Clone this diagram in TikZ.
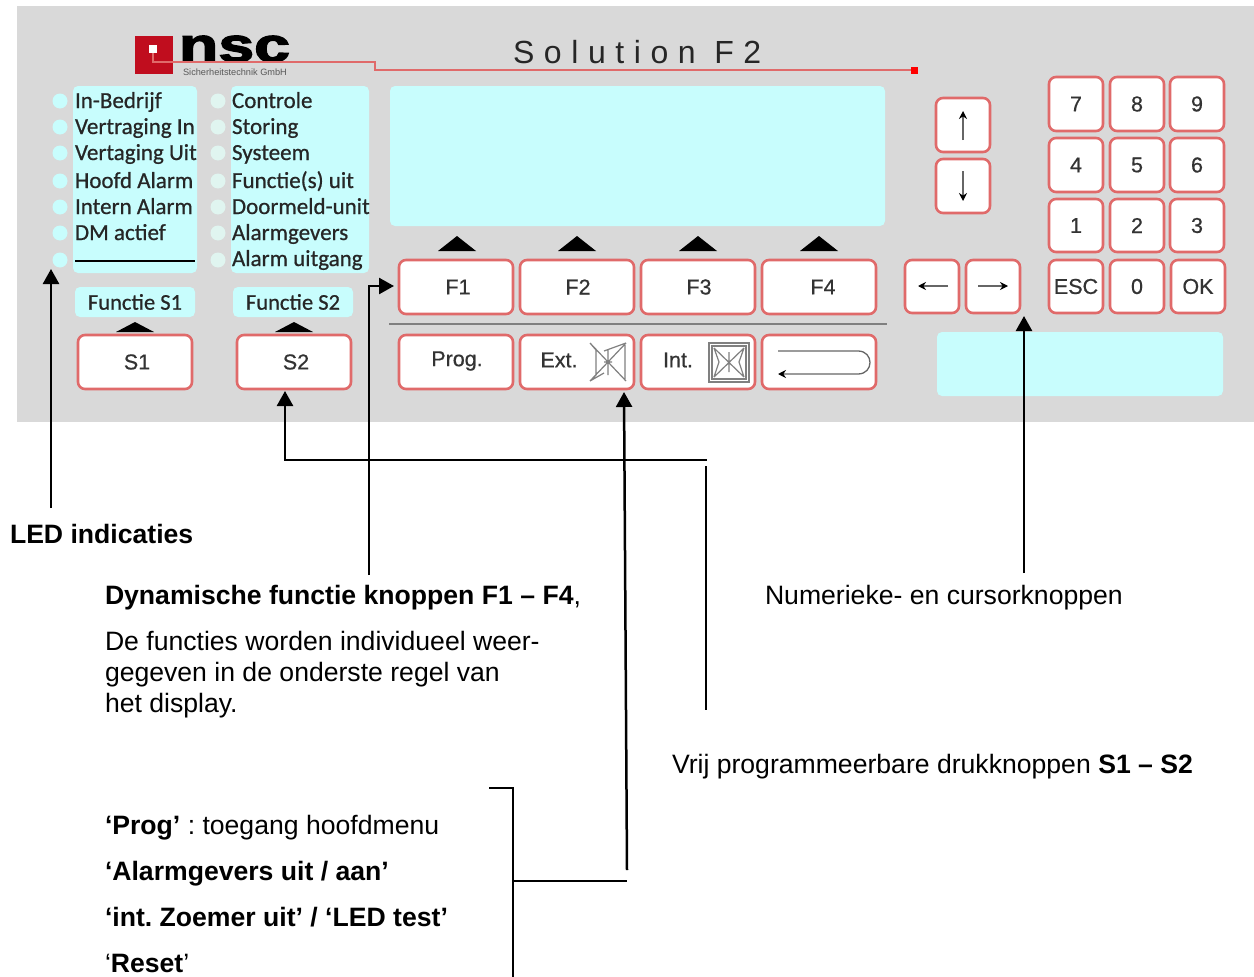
\documentclass[tikz,border=0pt]{standalone}
\usepackage{fontspec}
\setmainfont{Liberation Sans}
\newfontfamily\ledfont[FakeBold=0.7]{Carlito}
\newfontfamily\keyfont[FakeBold=0.6]{Liberation Sans}
\newfontfamily\logofont[FakeBold=2.5]{Liberation Sans Bold}
\newfontfamily\spacedfont[LetterSpace=30]{Liberation Sans}
\usetikzlibrary{arrows.meta}
\definecolor{panel}{HTML}{D9D9D9}
\definecolor{lcd}{HTML}{C8FDFD}
\definecolor{ledb}{HTML}{E0F5F0}
\definecolor{keyred}{HTML}{E06A6A}
\definecolor{keytxt}{HTML}{333333}
\definecolor{logored}{HTML}{C00D1E}
\frenchspacing
\tikzset{
  x=1pt,y=-1pt,
  every node/.style={inner sep=0pt,outer sep=0pt},
  body/.style={anchor=base west,font=\fontsize{26.6}{30}\selectfont,text=black},
  ledtxt/.style={anchor=base west,font=\ledfont\fontsize{23}{26}\selectfont,text=black!85},
  keytext/.style={font=\keyfont\fontsize{21.5}{26}\selectfont,text=keytxt},
  keyface/.style={draw=keyred,line width=2.6pt,fill=white,rounded corners=7pt},
  lcdbox/.style={fill=lcd,rounded corners=5pt},
  ledc/.style={circle,minimum size=15pt},
  marker/.style={fill=black},
  lead/.style={draw=black,line width=2.5pt},
  leadarrow/.style={lead,-{Triangle[length=15pt,width=16pt]}},
  keysym/.style={draw=black!60,line width=1.3pt},
  keyarrow/.style={keysym,-{Stealth[length=8pt,width=8pt,color=black]}},
}
\newcommand{\keybtn}[6]{% name, x0,y0,x1,y1, text
  \filldraw[keyface] (#2,#3) rectangle (#4,#5);
  \node[keytext] (#1) at ({(#2+#4)/2},{(#3+#5)/2}) {#6};
}
\begin{document}
\begin{tikzpicture}
\useasboundingbox (0,0) rectangle (1254,977);
\fill[white] (0,0) rectangle (1254,977);
\fill[panel] (17,6) rectangle (1254,422);

% logo
\fill[logored] (135,36) rectangle (173,74);
\node[anchor=west] (nsc) at (179,49) {\resizebox{111pt}{26pt}{\logofont nsc}};
\node[anchor=center,font=\fontsize{9.2}{10}\selectfont,text=black!65] (gmbh) at (235,72) {Sicherheitstechnik GmbH};
\node[fill=white,minimum size=8pt] (logodot) at (153,49) {};
\node[fill=red,minimum size=7pt] (reddot) at (914,70) {};
\draw[keyred,line width=1.5pt] (logodot.south) -- (153,62) -- (375,62) -- (375,70) -- (reddot.west);
\node[anchor=base west,font=\spacedfont\fontsize{32}{36}\selectfont,text=black!85] (title) at (513,63) {Solution F2};

% LCD areas
\fill[lcdbox] (73,86) rectangle (197,273);
\fill[lcdbox] (231,86) rectangle (369,273);
\fill[lcdbox] (390,86) rectangle (885,226);
\fill[lcdbox] (937,332) rectangle (1223,396);
\node[lcdbox,minimum width=120pt,minimum height=30pt] (fs1box) at (135,302) {};
\node[lcdbox,minimum width=120pt,minimum height=30pt] (fs2box) at (293,302) {};
\node[ledtxt,anchor=center,font=\ledfont\fontsize{22.5}{24}\selectfont] (fs1) at (135,302) {Functie S1};
\node[ledtxt,anchor=center,font=\ledfont\fontsize{22.5}{24}\selectfont] (fs2) at (293,302) {Functie S2};

% LEDs
\foreach \i/\y in {1/101,2/127,3/153,4/181,5/207,6/233,7/260}{
  \node[ledc,fill=lcd] (ledA\i) at (60,\y) {};
  \node[ledc,fill=ledb] (ledB\i) at (218,\y) {};
}
\foreach \i/\y/\t in {1/108/In-Bedrijf,2/134/Vertraging In,3/160/Vertaging Uit,4/188/Hoofd Alarm,5/214/Intern Alarm,6/240/DM actief}{
  \node[ledtxt] (ltA\i) at (75,\y) {\t};
}
\foreach \i/\y/\t in {1/108/Controle,2/134/Storing,3/160/Systeem,4/188/Functie(s) uit,5/214/Doormeld-unit,6/240/Alarmgevers,7/266/Alarm uitgang}{
  \node[ledtxt] (ltB\i) at (232,\y) {\t};
}
\draw[black,line width=1.5pt] (75,261) -- (195,261);

% markers
\foreach \x in {457,577,698,819}{
  \fill[marker] (\x-19,251) -- (\x,236) -- (\x+19,251) -- cycle;
}
\foreach \x in {135,294}{
  \fill[marker] (\x-19,332) -- (\x,322) -- (\x+19,332) -- cycle;
}
\draw[black!50,line width=1.6pt] (389,324) -- (887,324);

% keys
\keybtn{kF1}{399}{260}{513}{314}{}
\keybtn{kF2}{520}{260}{634}{314}{}
\keybtn{kF3}{641}{260}{755}{314}{}
\keybtn{kF4}{762}{260}{876}{314}{}
\keybtn{kS1}{78}{335}{192}{389}{}
\keybtn{kS2}{237}{335}{351}{389}{}
\keybtn{kProg}{399}{335}{513}{389}{}
\keybtn{kExt}{520}{335}{634}{389}{}
\keybtn{kInt}{641}{335}{755}{389}{}
\keybtn{kRet}{762}{335}{876}{389}{}
\foreach \n/\x/\y/\t in {tF1/458/287/F1,tF2/578/287/F2,tF3/699/287/F3,tF4/823/287/F4,tS1/137/362/S1,tS2/296/362/S2,tProg/457/361/Prog.,tExt/559/360/Ext.,tInt/678/360/Int.}{
  \node[keytext] (\n) at (\x,\y) {\t};
}
\keybtn{k7}{1049}{77}{1103}{131}{7}
\keybtn{k8}{1110}{77}{1164}{131}{8}
\keybtn{k9}{1170}{77}{1224}{131}{9}
\keybtn{k4}{1049}{138}{1103}{192}{4}
\keybtn{k5}{1110}{138}{1164}{192}{5}
\keybtn{k6}{1170}{138}{1224}{192}{6}
\keybtn{k1}{1049}{199}{1103}{252}{1}
\keybtn{k2}{1110}{199}{1164}{252}{2}
\keybtn{k3}{1170}{199}{1224}{252}{3}
\keybtn{kEsc}{1049}{260}{1103}{313}{ESC}
\keybtn{k0}{1110}{260}{1164}{313}{0}
\keybtn{kOk}{1171}{260}{1225}{313}{OK}
\keybtn{kUp}{936}{98}{990}{152}{}
\keybtn{kDown}{936}{159}{990}{213}{}
\keybtn{kLeft}{905}{260}{959}{313}{}
\keybtn{kRight}{966}{260}{1020}{313}{}
\draw[keyarrow] (963,140) -- (963,111);
\draw[keyarrow] (963,171) -- (963,201);
\draw[keyarrow] (948,286) -- (918,286);
\draw[keyarrow] (978,286) -- (1008,286);
\draw[keyarrow] (778,351) -- (858,351) .. controls (874,351) and (874,374) .. (858,374) -- (778,374);

% Ext / Int icons
\begin{scope}[draw=black!50,line width=1.2pt]
\draw (590,343) -- (626,381) (626,343) -- (590,381) (590,343) -- (596,350) -- (596,375) -- (590,381) (626,343) -- (604,351) (590,381) -- (604,373) (625,345) -- (625,379) (608,349) -- (608,375) (604,362) -- (612,362);
\draw (709,343) rectangle (749,382) (712,346) rectangle (746,379);
\draw (714,348) -- (744,377) (744,348) -- (714,377) (714,348) -- (719,362) -- (714,377) (744,348) -- (739,362) -- (744,377) (729,352) -- (729,372);
\end{scope}

% text labels
\node[body,font=\fontsize{26.6}{30}\selectfont\bfseries] (tLed) at (10,543) {LED indicaties};
\node[body] (tDyn) at (105,604) {\textbf{Dynamische functie knoppen F1 – F4},};
\node[body] (tDe1) at (105,650) {De functies worden individueel weer-};
\node[body] (tDe2) at (105,681) {gegeven in de onderste regel van};
\node[body] (tDe3) at (105,712) {het display.};
\node[body] (tNum) at (765,604) {Numerieke- en cursorknoppen};
\node[body] (tVrij) at (672,773) {Vrij programmeerbare drukknoppen \textbf{S1 – S2}};
\node[body] (tProg2) at (105,834) {\textbf{‘Prog’} : toegang hoofdmenu};
\node[body] (tAlarm) at (105,880) {\textbf{‘Alarmgevers uit / aan’}};
\node[body] (tZoem) at (105,926) {\textbf{‘int. Zoemer uit’ / ‘LED test’}};
\node[body] (tReset) at (105,972) {‘\textbf{Reset}’};

% leaders
\coordinate (cLedS) at (51,508);
\coordinate (cLedE) at (51,269);
\coordinate (cDynS) at (369,575);
\coordinate (cDynC) at (369,286);
\coordinate (cDynE) at (394,286);
\coordinate (cS2S) at (707,460);
\coordinate (cS2C) at (285,460);
\coordinate (cS2E) at (285,391);
\coordinate (cVrT) at (706,466);
\coordinate (cVrB) at (706,710);
\coordinate (cKnS) at (627,870);
\coordinate (cKnE) at (624,392);
\coordinate (cNumS) at (1024,573);
\coordinate (cNumE) at (1024,316);
\coordinate (cBr1) at (489,788);
\coordinate (cBr2) at (513,788);
\coordinate (cBr3) at (513,977);
\coordinate (cBrM) at (513,881);
\coordinate (cBrE) at (627,881);
\draw[leadarrow] (cLedS) -- (cLedE);
\draw[leadarrow] (cDynS) -- (cDynC) -- (cDynE);
\draw[leadarrow] (cS2S) -- (cS2C) -- (cS2E);
\draw[lead,line width=1.5pt] (cVrT) -- (cVrB);
\draw[leadarrow] (cKnS) -- (cKnE);
\draw[leadarrow] (cNumS) -- (cNumE);
\draw[lead,line width=1.6pt] (cBr1) -- (cBr2) -- (cBr3);
\draw[lead,line width=1.6pt] (cBrM) -- (cBrE);
\end{tikzpicture}
\end{document}
